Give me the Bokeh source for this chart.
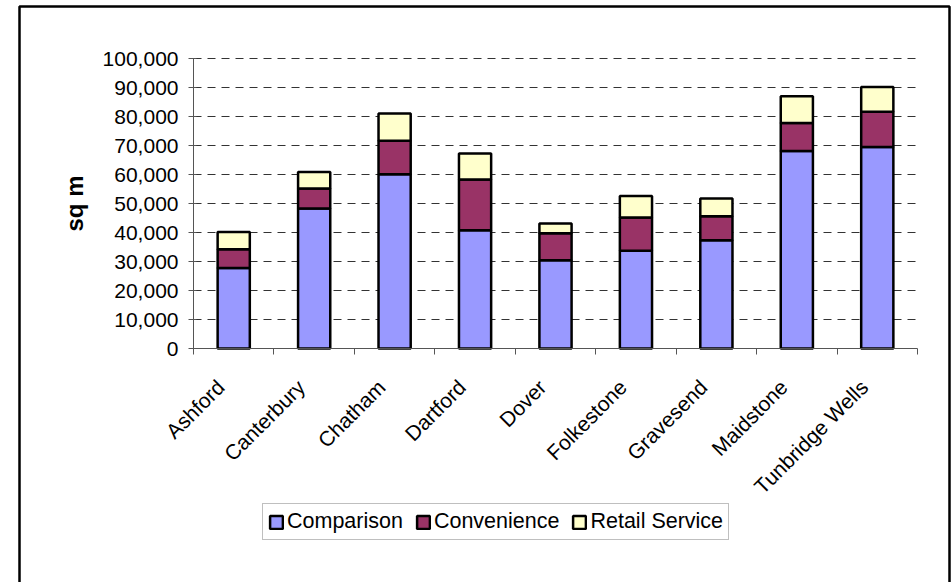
import math

from bokeh.embed import file_html
from bokeh.models import (BoxAnnotation, FixedTicker, Legend, LegendItem,
                          NumeralTickFormatter, Range1d)
from bokeh.plotting import figure
from bokeh.resources import INLINE

# Retail floorspace by town centre (sq m)
centres = ["Ashford", "Canterbury", "Chatham", "Dartford", "Dover",
           "Folkestone", "Gravesend", "Maidstone", "Tunbridge Wells"]
comparison = [27800, 48300, 60100, 40800, 30400, 33700, 37300, 68100, 69500]
convenience = [6400, 6900, 11500, 17500, 9300, 11500, 8300, 9700, 12100]
retail_service = [6000, 5700, 9400, 8900, 3400, 7400, 6100, 9200, 8600]

series_names = ["Comparison", "Convenience", "Retail Service"]
series_colors = ["#9999FF", "#993366", "#FFFFCC"]
y_ticks = list(range(0, 100001, 10000))
y_max = 100000

FONT = "Liberation Sans"
AXIS_COLOR = "#555555"

W, H = 951, 582
# plot region inside the canvas (pixels)
PL, PR, PT, PB = 193, 917, 58, 348

n = len(centres)
centre_pos = [i + 0.5 for i in range(n)]
boundaries = list(range(n + 1))

# the frame fills the whole canvas; ranges are set so the plot region sits at PL..PR / PT..PB
px_x = (PR - PL) / n
px_y = (PB - PT) / y_max
x_range = Range1d(-PL / px_x, n + (W - PR) / px_x)
y_range = Range1d(-(H - PB) / px_y, y_max + PT / px_y)

p = figure(width=W, height=H, x_range=x_range, y_range=y_range,
           output_backend="svg", toolbar_location=None,
           min_border=0, min_border_left=0, min_border_right=0,
           min_border_top=0, min_border_bottom=0)
p.outline_line_color = None
p.background_fill_color = "white"
p.border_fill_color = "white"
p.xgrid.visible = False
p.ygrid.visible = False

# dashed horizontal gridlines across the plot region
p.segment(x0=[0] * len(y_ticks), x1=[n] * len(y_ticks), y0=y_ticks, y1=y_ticks,
          line_color="#333333", line_width=1, line_dash="8 6")

# stacked bars
bottom = [0] * n
renderers = []
for values, color in zip([comparison, convenience, retail_service], series_colors):
    top = [b + v for b, v in zip(bottom, values)]
    r = p.vbar(x=centre_pos, bottom=bottom, top=top, width=0.4,
               fill_color=color, line_color="black", line_width=2.5)
    renderers.append(r)
    bottom = top

# x axis: slanted labels ending just left of each bar centre, tick marks between categories
label_shift = 13 / px_x
label_pos = [c - label_shift for c in centre_pos]
xa = p.xaxis[0]
xa.fixed_location = 0
xa.bounds = (0, n)
xa.ticker = FixedTicker(ticks=label_pos, minor_ticks=boundaries)
xa.major_label_overrides = {c: name for c, name in zip(label_pos, centres)}
xa.major_label_orientation = math.pi / 4
xa.major_tick_in = 0
xa.major_tick_out = 0
xa.minor_tick_in = 0
xa.minor_tick_out = 6
xa.minor_tick_line_color = AXIS_COLOR
xa.axis_line_color = AXIS_COLOR
xa.major_label_text_font = FONT
xa.major_label_text_font_size = "21px"
xa.major_label_text_color = "black"
xa.major_label_standoff = 29

# y axis
ya = p.yaxis[0]
ya.fixed_location = 0
ya.bounds = (0, y_max)
ya.ticker = FixedTicker(ticks=y_ticks)
ya.formatter = NumeralTickFormatter(format="0,0")
ya.major_tick_in = 3
ya.major_tick_out = 5
ya.minor_tick_line_color = None
ya.axis_line_color = AXIS_COLOR
ya.major_tick_line_color = AXIS_COLOR
ya.major_label_text_font = FONT
ya.major_label_text_font_size = "21px"
ya.major_label_text_color = "black"
ya.major_label_standoff = 10
ya.axis_label = "sq m"
ya.axis_label_text_font = FONT
ya.axis_label_text_font_size = "24px"
ya.axis_label_text_font_style = "bold"
ya.axis_label_text_color = "black"
ya.axis_label_standoff = 12

# legend below the category labels
legend = Legend(
    items=[LegendItem(label=name, renderers=[r]) for name, r in zip(series_names, renderers)],
    orientation="horizontal", location=(262, H - 540),
    glyph_width=16, glyph_height=16, label_standoff=3, spacing=12, padding=5,
    border_line_color="#808080", border_line_width=1,
    background_fill_color="white", background_fill_alpha=1,
    label_text_font=FONT, label_text_font_size="21.5px", label_text_color="black",
    margin=0)
p.add_layout(legend)

# chart area frame
p.add_layout(BoxAnnotation(left=19, right=949, top=6, bottom=H + 40,
                           left_units="canvas", right_units="canvas",
                           top_units="canvas", bottom_units="canvas",
                           fill_color=None, fill_alpha=0,
                           line_color="black", line_alpha=1, line_width=2.5))

with open("out.html", "w") as f:
    f.write(file_html(p, INLINE))
